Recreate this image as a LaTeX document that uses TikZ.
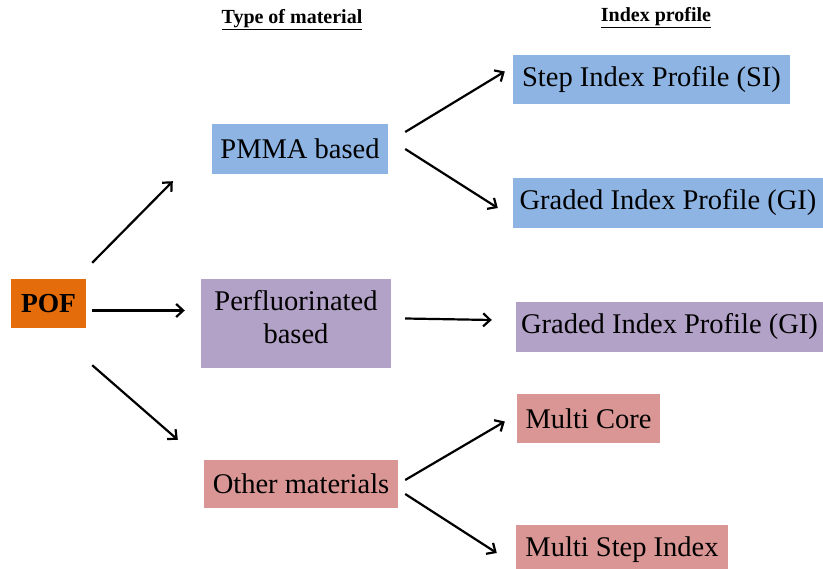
\documentclass[tikz,border=0pt]{standalone}
\usepackage{fontspec}
\setmainfont{Liberation Serif}
\usetikzlibrary{arrows.meta}
\definecolor{cblue}{HTML}{8EB4E3}
\definecolor{cpurple}{HTML}{B3A2C7}
\definecolor{cpink}{HTML}{D99694}
\definecolor{corange}{HTML}{E46C0A}
\tikzset{
  box/.style={inner sep=0pt, align=center, font=\fontsize{28.5}{33}\selectfont},
  bluebox/.style={box, fill=cblue},
  purplebox/.style={box, fill=cpurple},
  pinkbox/.style={box, fill=cpink},
  head/.style={font=\bfseries\fontsize{20}{24}\selectfont, inner sep=0pt},
  arr/.style={line width=2.2pt, -{Straight Barb[length=7pt,width=13pt,line width=2.2pt]}}
}
\begin{document}
\begin{tikzpicture}[x=1pt,y=-1pt]
\useasboundingbox (0,0) rectangle (823,569);
\node[head] (h1) at (292,20) {\underline{Type of material}};
\node[head] (h2) at (656,18) {\underline{Index profile}};
\node[box, fill=corange, minimum width=75pt, minimum height=49pt, font=\bfseries\fontsize{27.5}{32}\selectfont] (pof) at (48.5,303.5) {POF};
\node[bluebox, minimum width=176pt, minimum height=50pt] (pmma) at (300,149) {PMMA based};
\node[purplebox, minimum width=190pt, minimum height=89pt, inner ysep=8pt, text depth=14pt] (perf) at (296,323.5) {Perfluorinated\\based};
\node[pinkbox, minimum width=194pt, minimum height=48pt] (other) at (301,484) {Other materials};
\node[bluebox, minimum width=277pt, minimum height=49pt] (si) at (651.5,79.5) {Step Index Profile (SI)};
\node[bluebox, minimum width=310pt, minimum height=50pt] (gi1) at (668,203) {Graded Index Profile (GI)};
\node[purplebox, minimum width=307pt, minimum height=50pt] (gi2) at (669.5,327) {Graded Index Profile (GI)};
\node[pinkbox, minimum width=143pt, minimum height=49pt] (mc) at (588.5,418.5) {Multi Core};
\node[pinkbox, minimum width=212pt, minimum height=50pt] (msi) at (622,550) {Multi Step Index};
\draw[arr] ([shift={(6,-16)}]pof.north east) -- ([shift={(-39,7)}]pmma.south west);
\draw[arr] ([shift={(6,7)}]pof.east) -- ([shift={(-16,-13)}]perf.west);
\draw[arr] ([shift={(6,37)}]pof.south east) -- ([shift={(-26,-20)}]other.north west);
\draw[arr] ([shift={(17,-17)}]pmma.east) -- ([shift={(-8,-8)}]si.west);
\draw[arr] ([shift={(17,0)}]pmma.east) -- ([shift={(-15,5)}]gi1.west);
\draw[arr] ([shift={(14,-5)}]perf.east) -- ([shift={(-24,-7)}]gi2.west);
\draw[arr] ([shift={(7,-4)}]other.east) -- ([shift={(-12,3)}]mc.west);
\draw[arr] ([shift={(7,10)}]other.east) -- ([shift={(-19,3)}]msi.west);
\end{tikzpicture}
\end{document}
